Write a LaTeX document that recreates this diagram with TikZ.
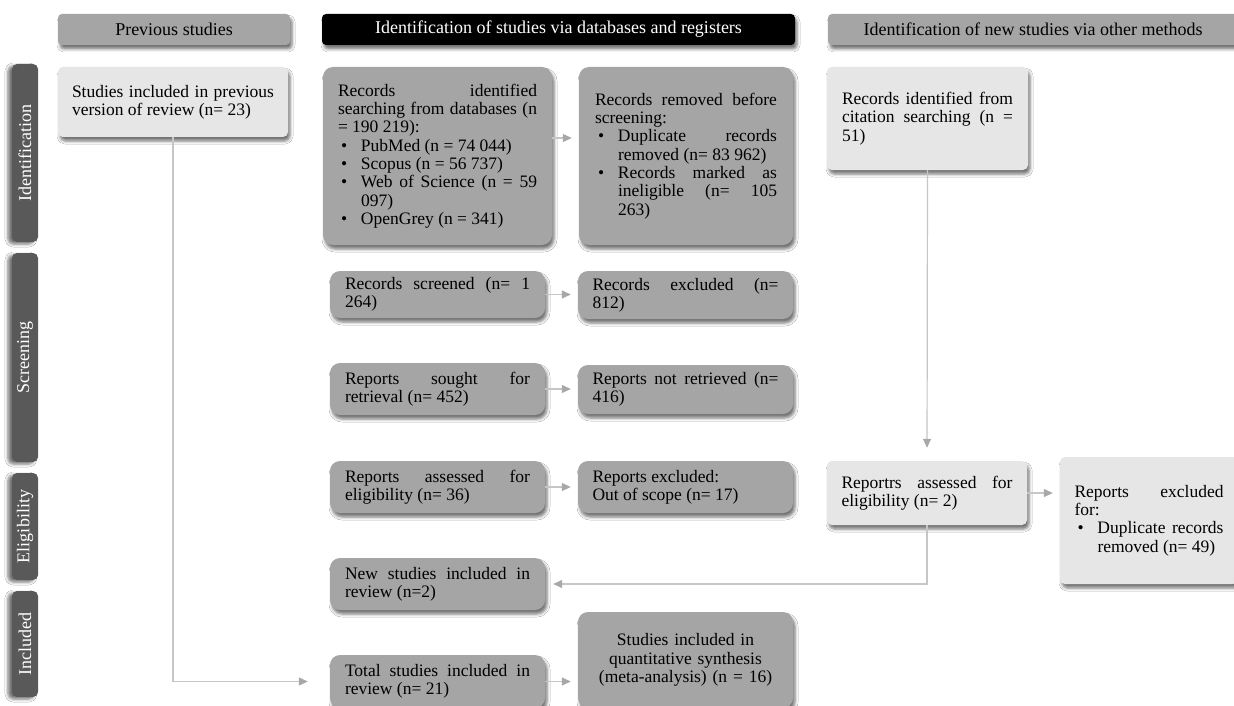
\documentclass[tikz,border=0pt]{standalone}
\usepackage{fontspec}
\setmainfont{Liberation Serif}
\usetikzlibrary{arrows.meta,shadows.blur,calc}
\definecolor{gbox}{HTML}{A5A5A5}
\definecolor{lbox}{HTML}{E6E6E6}
\definecolor{side}{HTML}{595959}
\definecolor{barc}{HTML}{CDCDCD}
\definecolor{connc}{HTML}{C6C6C6}
\definecolor{tipc}{HTML}{A8A8A8}
\pgfdeclarelayer{bg}
\pgfsetlayers{bg,main}
\hyphenpenalty=10000
\exhyphenpenalty=10000
\tolerance=10000
\newlength{\bulind}\setlength{\bulind}{23pt}
\newcommand{\bul}{\par\hangindent=\bulind\hangafter=1\noindent\makebox[\bulind][l]{\hspace{3pt}\textbullet}\ignorespaces}
\newcommand{\bx}[8]{\node[#1, minimum width={#5-#3}, minimum height={#6-#4}, text width=#7pt] (#2) at ({(#3+#5)/2},{-(#4+#6)/2}) {#8};}
\tikzset{
 shad/.style={blur shadow={shadow xshift=2pt,shadow yshift=-4pt,shadow blur radius=3pt,shadow opacity=55}},
 sideshad/.style={blur shadow={shadow xshift=-4pt,shadow yshift=-2pt,shadow blur radius=3pt,shadow opacity=55}},
 boxbase/.style={shad, inner sep=0pt, align=justify, font=\fontsize{17.5}{18.3}\selectfont},
 graybox/.style={boxbase, fill=gbox, rounded corners=10pt},
 lightbox/.style={boxbase, fill=lbox, rounded corners=5pt},
 header/.style={shad, inner sep=0pt, rounded corners=4pt, font=\fontsize{18}{20}\selectfont, align=center},
 sidelab/.style={sideshad, fill=side, text=white, rounded corners=5pt, inner sep=0pt, font=\fontsize{18}{20}\selectfont},
 conn/.style={draw=connc, line width=1.2pt, -{Triangle[length=9pt,width=8pt,color=tipc]}, shorten >=7pt},
}
\begin{document}
\begin{tikzpicture}[x=1pt,y=1pt]
\useasboundingbox (0,0) rectangle (1234,-706);
\fill[white] (0,0) rectangle (1234,-706);
% headers
\node[header, fill=gbox, minimum width=232, minimum height=31] (hprev) at (174,-29.5) {Previous studies};
\node[header, fill=black, text=white, minimum width=473, minimum height=31] (hid) at (558.5,-29.5) {Identification of studies via databases and registers};
\node[header, fill=gbox, minimum width=410, minimum height=31] (hoth) at (1033,-29.5) {Identification of new studies via other methods};
% side labels
\node[sidelab, rotate=90, minimum width=178, minimum height=26] (sid) at (25,-153) {Identification};
\node[sidelab, rotate=90, minimum width=209, minimum height=26] (sscr) at (25,-357.5) {Screening};
\node[sidelab, rotate=90, minimum width=107, minimum height=26] (selig) at (25,-526.5) {Eligibility};
\node[sidelab, rotate=90, minimum width=106, minimum height=26] (sinc) at (25,-644) {Included};
% boxes
\bx{lightbox}{prev}{58}{67}{288}{137}{202}{Studies included in previous\linebreak version of review (n= 23)}
\bx{graybox}{recid}{323}{67}{552}{245}{199}{Records identified\linebreak searching from databases (n\linebreak = 190 219):
\bul PubMed (n = 74 044)
\bul Scopus (n = 56 737)
\bul Web of Science (n = 59\linebreak 097)
\bul OpenGrey (n = 341)\par}
\bx{graybox}{recrem}{579}{67}{793}{245}{182}{Records removed before\linebreak screening:
\bul Duplicate records\linebreak removed (n= 83 962)
\bul Records marked as\linebreak ineligible (n= 105\linebreak 263)\par}
\bx{lightbox}{cit}{827}{67}{1028}{170}{171}{Records identified from\linebreak citation searching (n =\linebreak 51)}
\bx{graybox}{screened}{330}{271}{545}{318}{185}{Records screened (n= 1\linebreak 264)}
\bx{graybox}{excl}{578}{271}{793}{319}{186}{Records excluded (n=\linebreak 812)}
\bx{graybox}{sought}{330}{363}{545}{415}{185}{Reports sought for\linebreak retrieval (n= 452)}
\bx{graybox}{notretr}{578}{365}{793}{414}{186}{Reports not retrieved (n=\linebreak 416)}
\bx{graybox}{assessed}{330}{461}{545}{513}{185}{Reports assessed for\linebreak eligibility (n= 36)}
\bx{graybox}{exclscope}{578}{461}{793}{513}{186}{Reports excluded:\newline Out of scope (n= 17)}
\bx{graybox}{newst}{330}{558}{545}{610}{185}{New studies included in\linebreak review (n=2)}
\bx{graybox}{total}{330}{655}{545}{708}{185}{Total studies included in\linebreak review (n= 21)}
\bx{graybox, align=center}{quant}{578}{612}{793}{708}{190}{Studies included in\\quantitative synthesis\\(meta-analysis) (n = 16)}
\bx{lightbox}{rep2}{827}{461}{1027}{525}{171}{Reportrs assessed for\linebreak eligibility (n= 2)}
\bx{lightbox}{exclfor}{1060}{457}{1238}{584}{149}{Reports excluded\linebreak for:
\bul Duplicate records\linebreak removed (n= 49)\par}
% thick main flow bar
\begin{pgfonlayer}{bg}
\fill[barc, shad] ([xshift=-12.5pt]recid.south) -- ([xshift=2.5pt]recid.south)
  -- ([xshift=2.5pt,yshift=16pt]total.north) -- ([xshift=9.5pt,yshift=16pt]total.north)
  -- ([xshift=-5pt,yshift=3pt]total.north) -- ([xshift=-19.5pt,yshift=16pt]total.north)
  -- ([xshift=-12.5pt,yshift=16pt]total.north) -- cycle;
\end{pgfonlayer}
% thin connectors
\draw[conn] ([yshift=18pt]recid.east) -- ([yshift=18pt]recrem.west);
\draw[conn] (screened.east) -- (screened.east -| excl.west);
\draw[conn] (sought.east) -- (sought.east -| notretr.west);
\draw[conn] (assessed.east) -- (assessed.east -| exclscope.west);
\draw[conn] (total.east) -- (total.east -| quant.west);
\draw[conn] (rep2.east) -- (rep2.east -| exclfor.west);
\draw[conn, shorten >=13pt] (cit.south) -- (rep2.north);
\draw[conn, shorten >=8pt] (rep2.south) |- (newst.east);
\draw[conn, shorten >=22pt] (prev.south) |- (total.west);
\end{tikzpicture}
\end{document}
